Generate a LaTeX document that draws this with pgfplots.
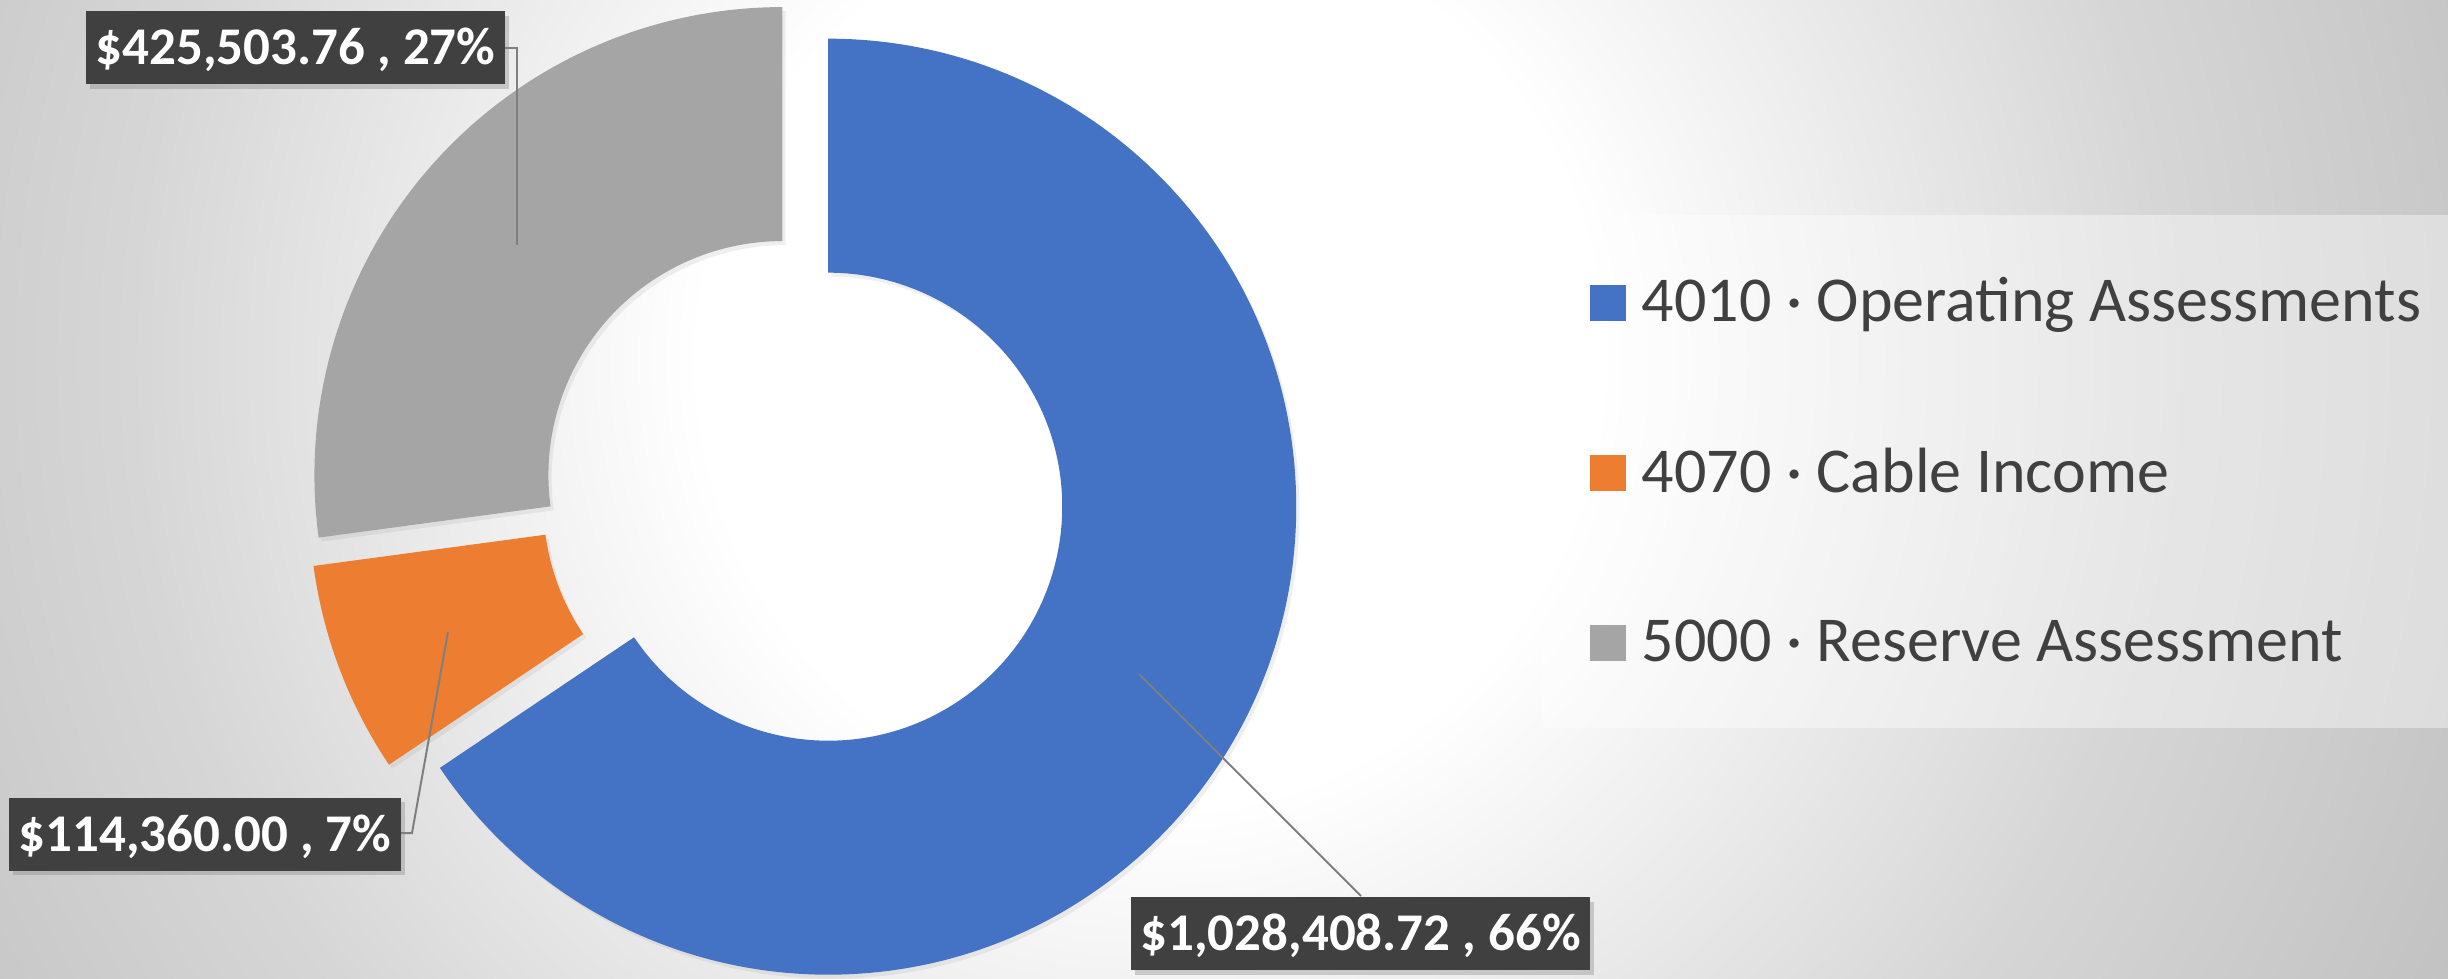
\documentclass[border=0pt]{standalone}
\usepackage{pgfplots}
\pgfplotsset{compat=1.18}
\usepackage{fontspec}
\setmainfont{Carlito}
\usetikzlibrary{shadows}
\definecolor{sBlue}{HTML}{4472C4}
\definecolor{sOrange}{HTML}{ED7D31}
\definecolor{sGray}{HTML}{A5A5A5}
\definecolor{txt}{HTML}{404040}
\definecolor{lblbg}{HTML}{404040}
\definecolor{lead}{HTML}{7F7F7F}
\definecolor{bgmid}{HTML}{D6D6D6}
\definecolor{bgedge}{HTML}{BFBFBF}
% the shaded circle's edge lies at 25bp
\pgfdeclareradialshading{bgshade}{\pgfpoint{0bp}{0bp}}{color(0bp)=(white); color(7.5bp)=(white); color(17bp)=(bgmid); color(25bp)=(bgedge); color(50bp)=(bgedge)}

% data values
\def\vA{1028408.72}% 4010 Operating Assessments
\def\vB{114360.00}%  4070 Cable Income
\def\vC{425503.76}%  5000 Reserve Assessment
\edef\tot{\fpeval{\vA+\vB+\vC}}
\edef\aS{90}
\edef\aA{\fpeval{90-360*\vA/\tot}}
\edef\aB{\fpeval{\aA-360*\vB/\tot}}
\edef\aC{\fpeval{\aB-360*\vC/\tot}}
\edef\mA{\fpeval{(\aS+\aA)/2}}
\edef\mB{\fpeval{(\aA+\aB)/2}}
\edef\mC{\fpeval{(\aB+\aC)/2}}

% ring slice: color, start angle, end angle, mid angle
\newcommand{\ringslice}[4]{%
  \fill[#1, drop shadow={opacity=0.12, shadow xshift=0.8pt, shadow yshift=-1pt}]
    ([shift={(axis cs:803.5,493.5)},shift={(#4:7pt)}]#2:117pt)
    arc[start angle=#2, end angle=#3, radius=117pt]
    -- ([shift={(axis cs:803.5,493.5)},shift={(#4:7pt)}]#3:58.5pt)
    arc[start angle=#3, end angle=#2, radius=58.5pt] -- cycle;}

\tikzset{
  lbl/.style={fill=lblbg, text=white, inner sep=0pt, minimum height=18.25pt,
    text height=8.6pt, text depth=0pt,
    font=\fontsize{13.25}{15}\selectfont\bfseries,
    drop shadow={opacity=0.35, shadow xshift=0.9pt, shadow yshift=-1.2pt}},
  legtxt/.style={anchor=base west, inner sep=0pt, text=txt,
    font=\fontsize{16}{19}\selectfont}
}

\begin{document}
\begin{tikzpicture}
\begin{axis}[width=612pt, height=244.5pt, scale only axis,
  xmin=0, xmax=2448, ymin=0, ymax=978, y dir=reverse,
  hide axis, clip=false]
  % background
  \begin{scope}
    \clip (axis cs:0,0) rectangle (axis cs:2448,978);
    \shade[shading=bgshade] (axis cs:1150,360) circle[radius=375pt];
  \end{scope}
  % donut slices
  \ringslice{sBlue}{\aS}{\aA}{\mA}
  \ringslice{sOrange}{\aA}{\aB}{\mB}
  \ringslice{sGray}{\aB}{\aC}{\mC}
  % leader lines
  \addplot[lead, line width=0.5pt, mark=none] coordinates {(517,245) (517,48) (505,48)};
  \addplot[lead, line width=0.5pt, mark=none] coordinates {(448,632) (412,833) (401,833)};
  \addplot[lead, line width=0.5pt, mark=none] coordinates {(1139,674) (1361,896)};
  % data labels
  \node[lbl, minimum width=104.75pt] at (axis cs:295.5,47.5) {\$425,503.76 , 27\%};
  \node[lbl, minimum width=98pt] at (axis cs:205,834) {\$114,360.00 , 7\%};
  \node[lbl, minimum width=114.75pt] at (axis cs:1360.5,933.5) {\$1,028,408.72 , 66\%};
  % legend
  \fill[white, opacity=0.4] (axis cs:1542,215) rectangle (axis cs:2448,728);
  \fill[sBlue] (axis cs:1590,285) rectangle (axis cs:1626,321);
  \fill[sOrange] (axis cs:1590,455) rectangle (axis cs:1626,491);
  \fill[sGray] (axis cs:1590,625) rectangle (axis cs:1626,661);
  \node[legtxt] at (axis cs:1641,321) {4010 · Operating Assessments};
  \node[legtxt] at (axis cs:1641,492) {4070 · Cable Income};
  \node[legtxt] at (axis cs:1641,661) {5000 · Reserve Assessment};
\end{axis}
\end{tikzpicture}
\end{document}
